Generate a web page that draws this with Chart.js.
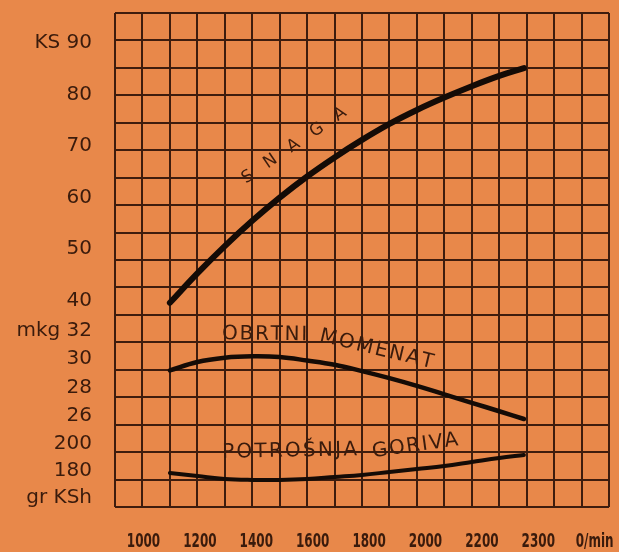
<!DOCTYPE html>
<html><head><meta charset="utf-8">
<style>html,body{margin:0;padding:0;background:#E8884A;}canvas{display:block;}</style>
<script src="https://cdn.jsdelivr.net/npm/chart.js@4/dist/chart.umd.min.js"></script>
</head><body>
<canvas id="c" width="619" height="552"></canvas>
<script>
// ---- data ----
const rpm = [1100,1200,1300,1400,1500,1600,1700,1800,1900,2000,2100,2200,2300,2390];
const snagaKS = [39.6,45.3,50.6,55.5,60.0,64.1,67.8,71.2,74.3,77.0,79.4,81.6,83.6,85.1];
const momentMkg = [29.2,29.8,30.1,30.2,30.15,29.9,29.6,29.15,28.65,28.1,27.5,26.9,26.3,25.75];
const potrosnjaGr = [178.1,175.9,173.7,173.0,173.0,173.7,175.2,176.7,178.9,181.1,183.3,186.3,189.3,191.5];
const xTickLabels = ['1000','1200','1400','1600','1800','2000','2200','2300','0/min'];
const ksTicks = [90,80,70,60,50,40];
const mkgTicks = [32,30,28,26];
const grTicks = [200,180];
const ksUnit = 'KS', mkgUnit = 'mkg', grUnit = 'gr KSh';

// ---- axis ranges ----
const RPM = [900,2700];
const KS = [0,95.8];
const MKG = [19.5,54.58];
const GR = [152.96,518.9];
const CELLS = 18;
const XLAB = [-0.505,8.254];

const ink = '#3a1b0c';
const gridCol = '#3e1d0e';

const pos = (v, r) => (v - r[0]) / (r[1] - r[0]) * CELLS;
const yLabels = [];
ksTicks.forEach((v,i)=>yLabels.push({value:pos(v,KS), text:(i===0? ksUnit+' ':'')+v}));
mkgTicks.forEach((v,i)=>yLabels.push({value:pos(v,MKG), text:(i===0? mkgUnit+' ':'')+v}));
grTicks.forEach(v=>yLabels.push({value:pos(v,GR), text:String(v)}));
yLabels.push({value:pos(grTicks[grTicks.length-1]-20,GR), text:grUnit});

const annotations = [
  {text:'SNAGA', axis:'yks', from:[1368,63.4], to:[1738,76.8], size:17},
  {text:'OBRTNI', axis:'ymkg', from:[1290,31.78], to:[1600,31.71], size:20},
  {text:'MOMENAT', axis:'ymkg', from:[1647,31.64], to:[2059,29.73], size:20},
  {text:'POTROŠNJA', axis:'ygr', from:[1290,193.3], to:[1782,195.2], size:20},
  {text:'GORIVA', axis:'ygr', from:[1837,193.7], to:[2150,202.6], size:20}
];

const textPlugin = {
  id:'curveText',
  afterDraw(chart){
    const c = chart.ctx, xs = chart.scales.x;
    annotations.forEach(a=>{
      const ys = chart.scales[a.axis];
      const x0 = xs.getPixelForValue(a.from[0]), y0 = ys.getPixelForValue(a.from[1]);
      const x1 = xs.getPixelForValue(a.to[0]), y1 = ys.getPixelForValue(a.to[1]);
      const ang = Math.atan2(y1-y0, x1-x0), L = Math.hypot(x1-x0, y1-y0);
      c.save();
      c.font = a.size + 'px "DejaVu Sans", sans-serif';
      c.fillStyle = ink;
      c.textBaseline = 'middle';
      c.textAlign = 'left';
      const chars = [...a.text];
      const w = chars.map(ch=>c.measureText(ch).width);
      const sum = w.reduce((p,q)=>p+q,0);
      const gap = chars.length>1 ? (L - sum)/(chars.length-1) : 0;
      let cur = 0;
      chars.forEach((ch,i)=>{
        const cx = x0 + Math.cos(ang)*(cur + w[i]/2), cy = y0 + Math.sin(ang)*(cur + w[i]/2);
        c.save(); c.translate(cx,cy); c.rotate(ang);
        c.fillText(ch, -w[i]/2, 0);
        c.restore();
        cur += w[i] + gap;
      });
      c.restore();
    });
    // condensed bold rpm tick labels, placed at the xlab scale's ticks
    const xl = chart.scales.xlab;
    c.save();
    c.fillStyle = ink;
    c.font = 'bold 20px "DejaVu Sans", sans-serif';
    c.textAlign = 'center';
    c.textBaseline = 'middle';
    xl.ticks.forEach((t,i)=>{
      const px = xl.getPixelForValue(t.value);
      c.save(); c.translate(px, xl.top + 35); c.scale(0.6, 1);
      c.fillText(xTickLabels[i], 0, 0);
      c.restore();
    });
    c.restore();
  }
};

const line = (label, vals, axis, width) => ({
  label, data: rpm.map((r,i)=>({x:r, y:vals[i]})), xAxisID:'x', yAxisID:axis,
  borderColor:'#140b06', borderWidth:width, pointRadius:0, tension:0.4, fill:false,
  borderCapStyle:'round', borderJoinStyle:'round'
});

const noPad = s => { s.paddingTop = 0; s.paddingBottom = 0; s.paddingLeft = 0; s.paddingRight = 0; };

new Chart(document.getElementById('c'), {
  type:'line',
  data:{datasets:[
    line('SNAGA', snagaKS, 'yks', 6),
    line('OBRTNI MOMENAT', momentMkg, 'ymkg', 4.5),
    line('POTROŠNJA GORIVA', potrosnjaGr, 'ygr', 4)
  ]},
  options:{
    responsive:false, animation:false, devicePixelRatio:1,
    layout:{padding:{top:13,right:10,bottom:0,left:0}},
    plugins:{legend:{display:false}, tooltip:{enabled:false}},
    scales:{
      x:{type:'linear', position:'bottom', min:RPM[0], max:RPM[1],
         ticks:{display:false, stepSize:100}, grid:{color:gridCol, lineWidth:2, drawTicks:false},
         border:{display:false}, afterFit:s=>{s.height=0; noPad(s);}},
      xlab:{type:'linear', position:'bottom', min:XLAB[0], max:XLAB[1],
         afterBuildTicks:s=>{s.ticks = xTickLabels.map((_,i)=>({value:i}));},
         ticks:{display:false, autoSkip:false, maxRotation:0, minRotation:0},
         grid:{display:false, drawTicks:false}, border:{display:false}, afterFit:s=>{s.height=45; noPad(s);}},
      yg:{type:'linear', position:'left', min:0, max:CELLS,
         ticks:{display:false, stepSize:1}, grid:{color:gridCol, lineWidth:2, drawTicks:false},
         border:{display:false}, afterFit:s=>{s.width=0; noPad(s);}},
      ylab:{type:'linear', position:'left', min:0, max:CELLS,
         afterBuildTicks:s=>{s.ticks = yLabels.map(o=>({value:o.value}));},
         ticks:{callback:(v,i)=>yLabels[i].text, color:ink, padding:23, autoSkip:false,
                font:{family:'"DejaVu Sans",sans-serif', size:20}},
         grid:{display:false, drawTicks:false}, border:{display:false}, afterFit:s=>{s.width=115; noPad(s);}},
      yks:{type:'linear', display:false, min:KS[0], max:KS[1]},
      ymkg:{type:'linear', display:false, min:MKG[0], max:MKG[1]},
      ygr:{type:'linear', display:false, min:GR[0], max:GR[1]}
    }
  },
  plugins:[textPlugin]
});
</script>
</body></html>
